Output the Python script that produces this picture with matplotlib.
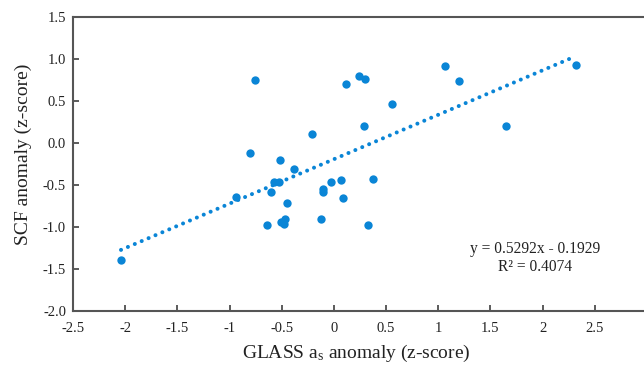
import matplotlib
matplotlib.use("Agg")
import matplotlib.pyplot as plt
import numpy as np
from matplotlib.ticker import FormatStrFormatter, FuncFormatter

plt.rcParams['font.family'] = ['Liberation Serif', 'DejaVu Serif']
plt.rcParams['mathtext.fontset'] = 'custom'
plt.rcParams['mathtext.rm'] = 'Liberation Serif'
plt.rcParams['mathtext.it'] = 'Liberation Serif:italic'
plt.rcParams['axes.unicode_minus'] = False

glass_x = [-2.04, -0.94, -0.80, -0.76, 0.115, 0.245, 0.30, 0.56, -0.21, 0.29,
           -0.515, -0.385, -0.57, -0.53, -0.605, -0.445, -0.64, -0.51, -0.47, -0.48,
           -0.12, -0.10, -0.10, -0.025, 0.067, 0.087, 0.375, 0.33, 1.06, 1.195,
           1.645, 2.32]
scf_y = [-1.39, -0.64, -0.12, 0.75, 0.70, 0.80, 0.765, 0.46, 0.11, 0.205,
         -0.205, -0.31, -0.47, -0.47, -0.58, -0.71, -0.98, -0.94, -0.91, -0.96,
         -0.90, -0.55, -0.58, -0.46, -0.44, -0.65, -0.425, -0.98, 0.92, 0.735,
         0.20, 0.925]
slope = 0.5292
intercept = -0.1929
r2 = 0.4074

color = '#0A85D6'

fig = plt.figure(figsize=(6.44, 3.66), dpi=100)
ax = fig.add_axes([73/644, 1-311/366, (647-73)/644, (311-17)/366])

ax.scatter(glass_x, scf_y, s=36, color=color, zorder=3, linewidths=0)

xs = np.linspace(min(glass_x), max(glass_x) - 0.03, 200)
ax.plot(xs, slope*xs + intercept, linestyle=(0, (0.01, 1.85)), color=color,
        linewidth=2.9, dash_capstyle='round', solid_capstyle='round', zorder=2)

ax.set_xlim(-2.5, 3)
ax.set_ylim(-2.0, 1.5)
ax.set_xticks(np.arange(-2.5, 3.01, 0.5))
ax.set_yticks(np.arange(-2.0, 1.51, 0.5))
ax.xaxis.set_major_formatter(FuncFormatter(lambda v, p: ('%g' % round(v, 2))))
ax.yaxis.set_major_formatter(FormatStrFormatter('%.1f'))
ax.tick_params(direction='in', length=4, width=1.2, colors='#404040',
               labelcolor='#222222', labelsize=10.5)
ax.tick_params(axis='x', pad=8)
ax.tick_params(axis='y', pad=5)
for sp in ax.spines.values():
    sp.set_color('#555555')
    sp.set_linewidth(1.5)

ax.set_xlabel('GLASS a$_\\mathregular{s}$ anomaly (z-score)', fontsize=14, color='#222222')
ax.xaxis.set_label_coords(0.493, -0.11)
ax.set_ylabel('SCF anomaly (z-score)', fontsize=14, color='#222222')
ax.yaxis.set_label_coords(-0.072, 0.534)

ax.text(0.805, 0.212, 'y = %.4fx - %.4f' % (slope, abs(intercept)), transform=ax.transAxes,
        ha='center', va='center', fontsize=11.2, color='#222222')
ax.text(0.805, 0.150, 'R² = %.4f' % r2, transform=ax.transAxes,
        ha='center', va='center', fontsize=11.2, color='#222222')

fig.savefig('out.png', dpi=100)
